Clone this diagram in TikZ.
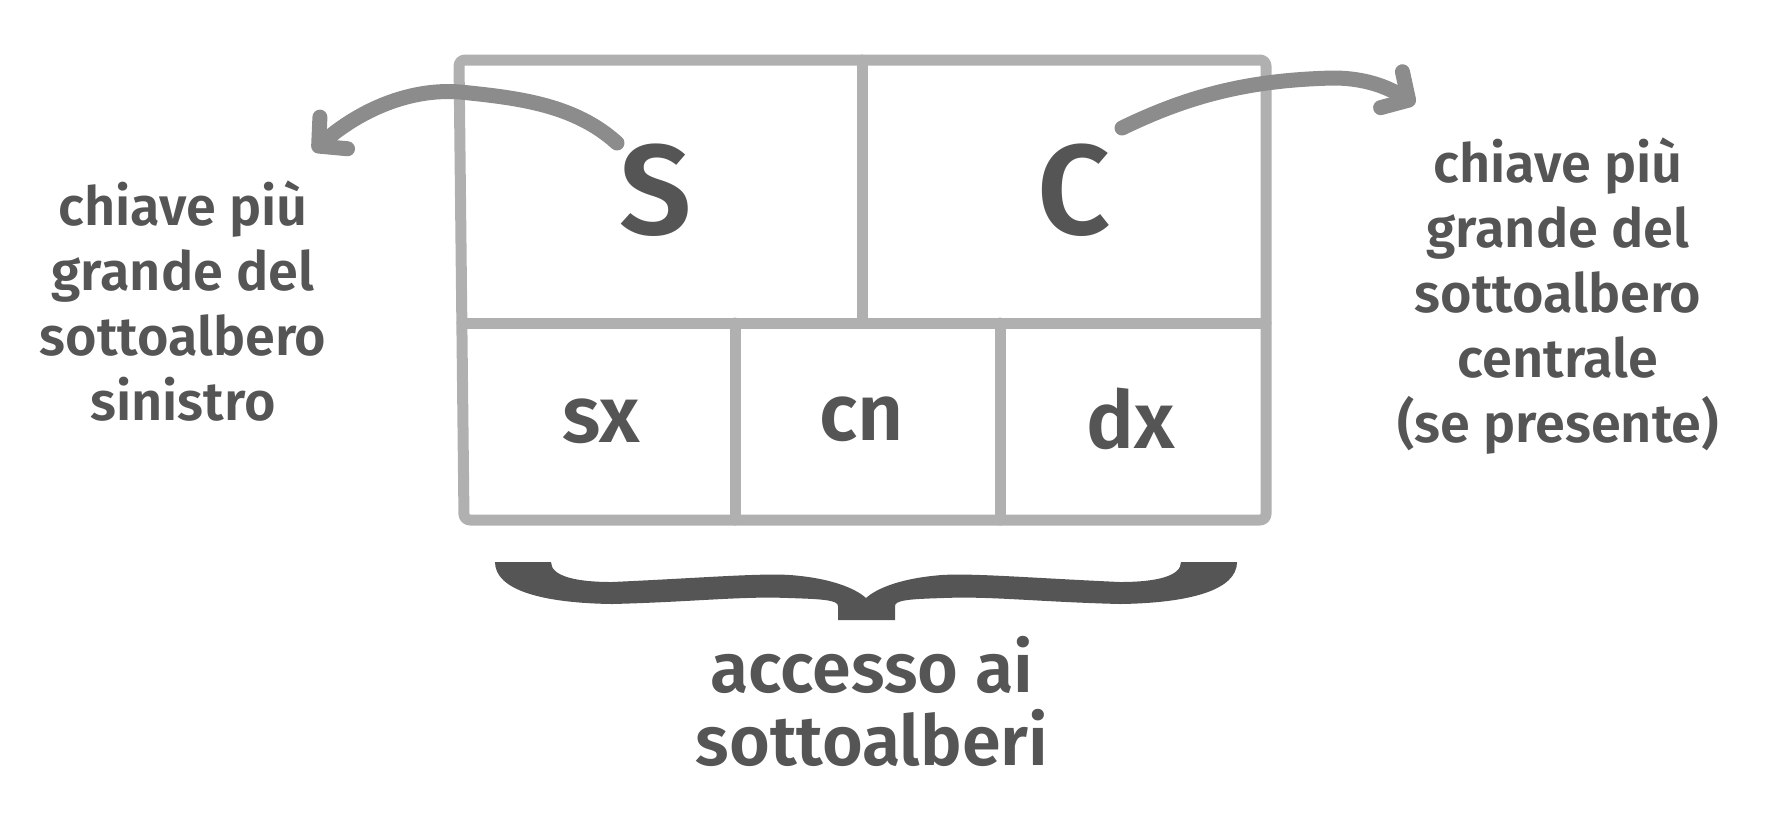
\documentclass[tikz,border=0pt]{standalone}
\usepackage{fontspec}
\setmainfont{Fira Sans SemiBold}
\usetikzlibrary{arrows.meta}
\definecolor{testo}{HTML}{555555}
\definecolor{grigio}{HTML}{B0B0B0}
\definecolor{freccia}{HTML}{8C8C8C}

\begin{document}
\begin{tikzpicture}[
    % Unita' in pixel dell'immagine
    x=0.5pt, y=-0.5pt,
    % Riquadro del nodo: linee grigio chiaro, spesse
    griglia/.style={draw=grigio, line width=5.5pt, line cap=round, line join=round},
    % Frecce disegnate a mano
    curva/.style={draw=freccia, line width=7.5pt, line cap=round,
        -{Straight Barb[length=10pt, width=21pt, round]}},
    % Testi (ancorati alla linea di base dell'ultima riga)
    every node/.style={text=testo, inner sep=0pt, anchor=base},
    chiave/.style={font=\fontsize{64}{64}\selectfont},
    campo/.style={font=\fontsize{40}{40}\selectfont},
    nota/.style={align=center, font=\fontsize{27}{32.5}\selectfont},
    notagrande/.style={align=center, font=\fontsize{35}{36.5}\selectfont}
]
    \useasboundingbox (0,0) rectangle (1765,816);

    % Riquadro esterno e divisioni
    \draw[griglia, rounded corners=3pt] (459,60) -- (1266,60) -- (1266,520) -- (464,520) -- cycle;
    \draw[griglia] (462,323) -- (1266,323);
    \draw[griglia] (862,60) -- (862,323);
    \draw[griglia] (735,323) -- (735,520);
    \draw[griglia] (1000,323) -- (1000,520);

    % Chiavi
    \node[chiave] (S) at (656,234) {S};
    \node[chiave] (C) at (1074,234) {C};

    % Puntatori ai sottoalberi
    \node[campo] (sx) at (601,442) {sx};
    \node[campo] (cn) at (862,440) {cn};
    \node[campo] (dx) at (1131,448) {dx};

    % Didascalie
    \node[nota] (sinistra) at (183,420) {chiave più\\grande del\\sottoalbero\\sinistro};
    \node[nota] (destra) at (1558,442) {chiave più\\grande del\\sottoalbero\\centrale\\(se presente)};
    \node[notagrande] (accesso) at (872,765) {accesso ai\\sottoalberi};

    % Frecce
    \coordinate (sInizio) at (617,143);
    \coordinate (sFine) at (313,151);
    \coordinate (cInizio) at (1122,128);
    \coordinate (cFine) at (1415,104);
    \draw[curva] (sInizio) .. controls (575,105) and (520,98) .. (460,92)
        .. controls (410,88) and (360,110) .. (sFine);
    \draw[curva] (cInizio) .. controls (1190,95) and (1250,80) .. (1333,78)
        .. controls (1370,78) and (1392,90) .. (cFine);

    % Graffa sotto il riquadro
    \fill[testo] (495,562) -- (551,562)
        .. controls (551,576) and (575,582) .. (612,582)
        .. controls (700,578) and (760,573) .. (790,575)
        .. controls (830,578) and (855,588) .. (866,598)
        .. controls (877,588) and (902,578) .. (942,575)
        .. controls (972,573) and (1032,578) .. (1120,582)
        .. controls (1157,582) and (1181,576) .. (1181,562)
        -- (1237,562)
        .. controls (1237,590) and (1190,603) .. (1120,604)
        .. controls (1040,602) and (990,596) .. (944,598)
        .. controls (910,599) and (895,600) .. (895,606)
        -- (895,620) -- (838,620) -- (838,606)
        .. controls (838,600) and (822,599) .. (788,598)
        .. controls (742,596) and (692,602) .. (612,604)
        .. controls (542,603) and (495,590) .. (495,562) -- cycle;

\end{tikzpicture}
\end{document}
